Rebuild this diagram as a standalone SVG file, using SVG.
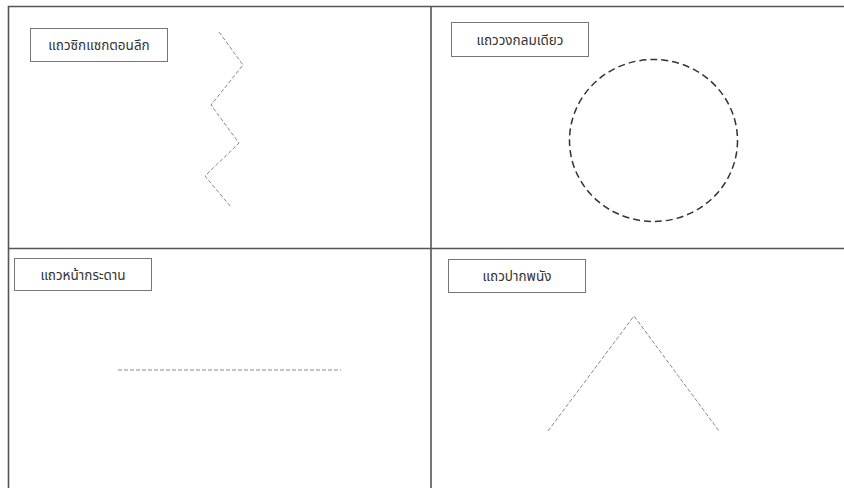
<svg xmlns="http://www.w3.org/2000/svg" width="844" height="488" viewBox="0 0 844 488">
<style>
.frame{fill:none;stroke:#555;stroke-width:1.6}
.lbl rect{fill:#fff;stroke:#777;stroke-width:1}
.lbl text{font-family:"Noto Sans Thai","Tahoma","Noto Sans",sans-serif;font-size:13.5px;fill:#333;text-anchor:middle}
.thin{fill:none;stroke:#888;stroke-width:1;stroke-dasharray:4 2}
.circ{fill:none;stroke:#333;stroke-width:1.5;stroke-dasharray:7 4}
</style>
<rect width="844" height="488" fill="#fff"/>
<g id="frame">
<path class="frame" d="M8.5,490 V6.5 H846"/>
<path class="frame" d="M431,6.5 V490"/>
<path class="frame" d="M8.5,248.5 H846"/>
</g>
<g id="zigzag">
<g class="lbl"><rect x="30.5" y="28.5" width="137" height="33"/><text x="99" y="50">แถวซิกแซกตอนลึก</text></g>
<polyline class="thin" points="219,32 243,65 211,105 239,143 205,176 231,207"/>
</g>
<g id="circle">
<g class="lbl"><rect x="451.5" y="22.5" width="137" height="34"/><text x="520" y="45">แถววงกลมเดียว</text></g>
<ellipse class="circ" cx="653.5" cy="140.5" rx="84" ry="81"/>
</g>
<g id="line">
<g class="lbl"><rect x="14.5" y="258.5" width="137" height="32"/><text x="83" y="280">แถวหน้ากระดาน</text></g>
<line class="thin" x1="118" y1="370" x2="341" y2="370"/>
</g>
<g id="roof">
<g class="lbl"><rect x="448.5" y="259.5" width="137" height="33"/><text x="517" y="281">แถวปากพนัง</text></g>
<polyline class="thin" points="548,431 634,316 719,431"/>
</g>
</svg>
